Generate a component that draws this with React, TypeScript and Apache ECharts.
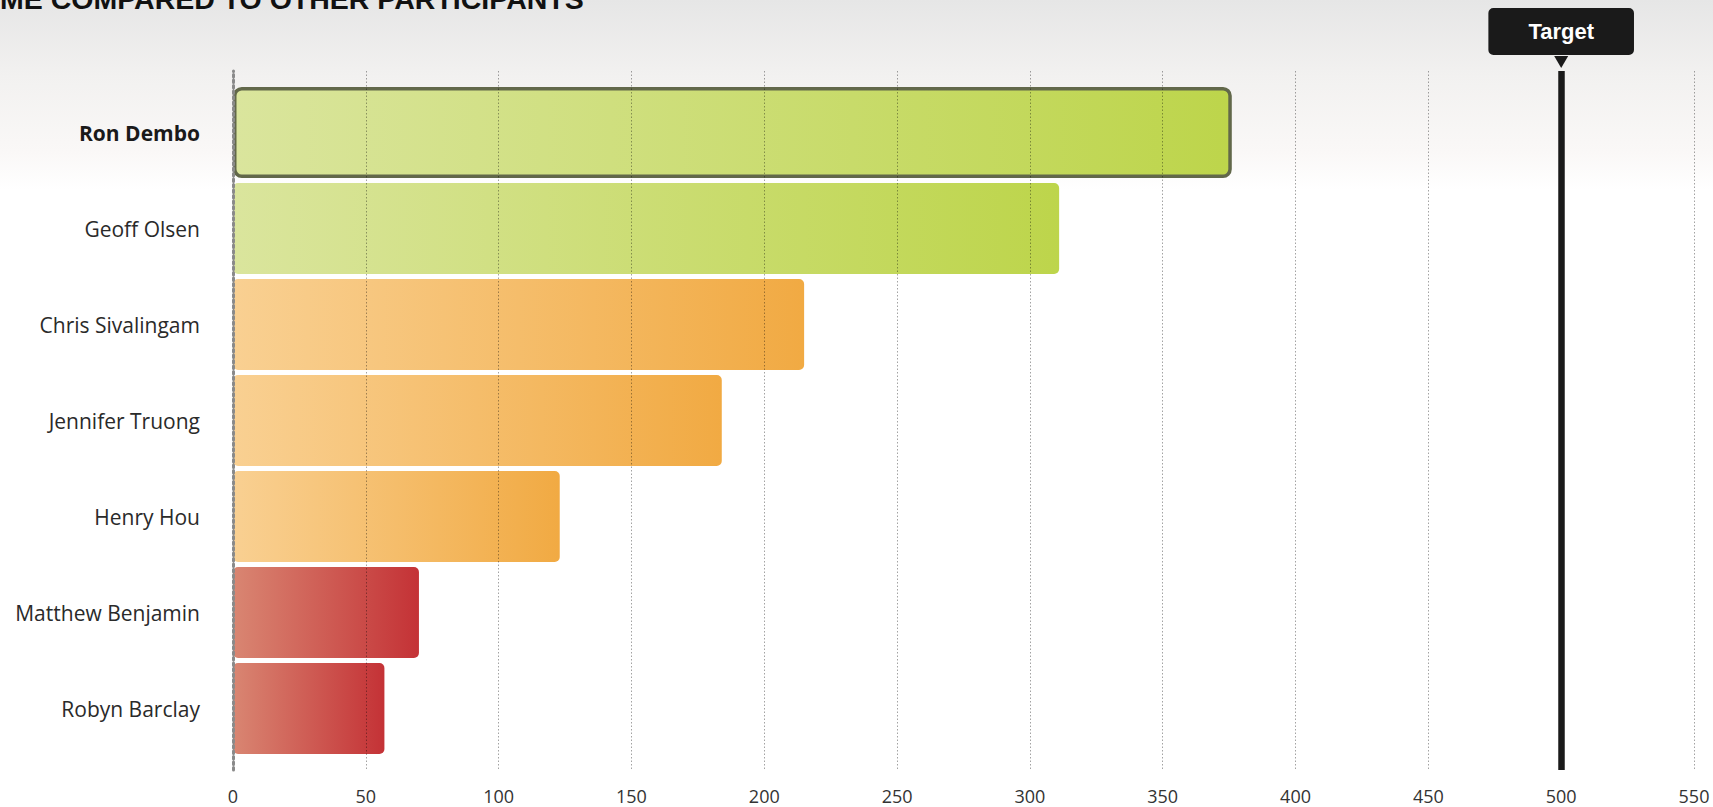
import React, { useEffect, useRef } from "react";
import * as echarts from "echarts";

const titleText = "ME COMPARED TO OTHER PARTICIPANTS";
const categories = [
  "Ron Dembo",
  "Geoff Olsen",
  "Chris Sivalingam",
  "Jennifer Truong",
  "Henry Hou",
  "Matthew Benjamin",
  "Robyn Barclay",
];
const values = [376, 311, 215, 184, 123, 70, 57];
const tiers = ["green", "green", "orange", "orange", "orange", "red", "red"];
const me = "Ron Dembo";
const target = 500;
const targetLabel = "Target";
const xMin = 0;
const xMax = 550;
const xStep = 50;

const tierColors: Record<string, [string, string]> = {
  green: ["#dae59d", "#bdd54b"],
  orange: ["#f9d092", "#f1aa43"],
  red: ["#d98672", "#c43236"],
};

function grad(tier: string) {
  const [a, b] = tierColors[tier];
  return new echarts.graphic.LinearGradient(0, 0, 1, 0, [
    { offset: 0, color: a },
    { offset: 1, color: b },
  ]);
}

export default function App() {
  const ref = useRef<HTMLDivElement>(null);
  useEffect(() => {
    document.body.style.margin = "0";
    const chart = echarts.init(ref.current!, null, { renderer: "svg" });
    chart.setOption({
      animation: false,
      backgroundColor: "#ffffff",
      graphic: [
        {
          type: "rect",
          z: -100,
          silent: true,
          shape: { x: 0, y: 0, width: 1713, height: 190 },
          style: {
            fill: new echarts.graphic.LinearGradient(0, 0, 0, 1, [
              { offset: 0, color: "#e6e6e6" },
              { offset: 0.4, color: "#f2f1f0" },
              { offset: 0.8, color: "#faf8f7" },
              { offset: 1, color: "#ffffff" },
            ]),
          },
        },
        {
          type: "text",
          x: 0,
          y: -1,
          silent: true,
          style: {
            text: titleText,
            fontFamily: "Liberation Sans",
            fontWeight: "bold",
            fontSize: 28.5,
            fill: "#111111",
            verticalAlign: "middle",
          },
        },
      ],
      grid: [
        { left: 233, right: 19, top: 71, bottom: 37 },
        { left: 233, right: 19, top: 84.5, bottom: 50.5 },
      ],
      xAxis: [
        {
          gridIndex: 0,
          type: "value",
          min: xMin,
          max: xMax,
          interval: xStep,
          z: 3,
          axisLine: { show: false },
          axisTick: { show: false },
          splitLine: {
            show: true,
            lineStyle: { type: [1.5, 2], color: "rgba(0,0,0,0.36)", width: 1 },
          },
          axisLabel: {
            margin: 17,
            fontSize: 18,
            color: "#333333",
            fontFamily: "Open Sans",
          },
        },
        { gridIndex: 1, type: "value", min: xMin, max: xMax, show: false },
      ],
      yAxis: [
        {
          gridIndex: 0,
          type: "value",
          min: 0,
          max: 1,
          z: 3,
          axisLabel: { show: false },
          axisTick: { show: false },
          splitLine: { show: false },
          axisLine: {
            show: true,
            lineStyle: { type: [2.5, 3], color: "#8a8a8a", width: 3 },
          },
        },
        {
          gridIndex: 1,
          type: "category",
          data: categories,
          inverse: true,
          axisLine: { show: false },
          axisTick: { show: false },
          splitLine: { show: false },
          axisLabel: {
            margin: 33,
            formatter: (v: string) => (v === me ? `{b|${v}}` : `{n|${v}}`),
            rich: {
              b: { fontFamily: "Open Sans", fontSize: 21, fontWeight: "bold", color: "#1a1a1a" },
              n: { fontFamily: "Open Sans", fontSize: 21, color: "#2a2a2a" },
            },
          },
        },
      ],
      series: [
        {
          type: "bar",
          xAxisIndex: 1,
          yAxisIndex: 1,
          barWidth: 91,
          data: values.map((v, i) => ({
            value: v,
            itemStyle: {
              color: grad(tiers[i]),
              borderRadius: categories[i] === me ? 7 : 5,
              borderColor: categories[i] === me ? "#62684a" : "transparent",
              borderWidth: categories[i] === me ? 3.5 : 0,
            },
          })),
        },
        {
          type: "scatter",
          xAxisIndex: 0,
          yAxisIndex: 0,
          data: [],
          silent: true,
          z: 5,
          markLine: {
            symbol: "none",
            silent: true,
            lineStyle: { color: "#1a1a1a", width: 6.5, type: "solid" },
            label: {
              show: true,
              position: "end",
              formatter: targetLabel,
              distance: 16,
              backgroundColor: "#1a1a1a",
              color: "#ffffff",
              fontFamily: "Liberation Sans",
              fontWeight: "bold",
              fontSize: 22,
              lineHeight: 23,
              padding: [12, 40, 12, 40],
              borderRadius: 5,
            },
            data: [[{ coord: [target, 0] }, { coord: [target, 1] }]],
          },
          markPoint: {
            symbol: "triangle",
            symbolRotate: 180,
            symbolSize: [14, 12],
            symbolOffset: [0, -9],
            silent: true,
            itemStyle: { color: "#1a1a1a" },
            label: { show: false },
            data: [{ coord: [target, 1] }],
          },
        },
      ],
    });
    return () => chart.dispose();
  }, []);
  return <div ref={ref} style={{ width: 1713, height: 807 }} />;
}
